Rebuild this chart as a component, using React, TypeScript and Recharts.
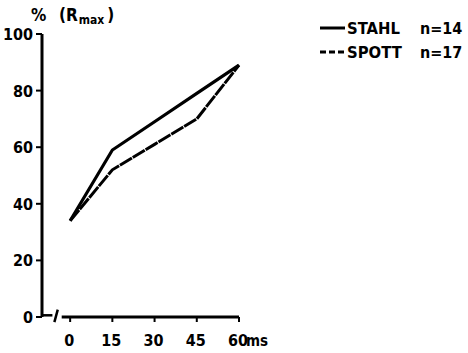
import React from 'react';
import { LineChart, Line, XAxis, YAxis, ReferenceLine } from 'recharts';

const times = [0, 15, 30, 45, 60];
const stahl = [34, 59, 69, 79, 89];
const spott = [34, 52, 61, 70, 89];
const xTicks = [0, 15, 30, 45, 60];
const yTicks = [0, 20, 40, 60, 80, 100];
const seriesNames = ['STAHL', 'SPOTT'];
const seriesN = ['n=14', 'n=17'];

const data = times.map((t, i) => ({ t, stahl: stahl[i], spott: spott[i] }));

const FONT = "'DejaVu Sans Condensed', 'DejaVu Sans', sans-serif";
const INK = '#000';

const XTick = (props: any) => {
  const { x, y, payload } = props;
  return (
    <g>
      <text x={x - 1} y={y + 22} textAnchor="middle" fontFamily={FONT} fontWeight="bold" fontSize={16} fill={INK}>
        {payload.value}
      </text>
      {payload.value === 60 && (
        <text x={x + 7} y={y + 22} textAnchor="start" fontFamily={FONT} fontWeight="bold" fontSize={15} fill={INK}>
          ms
        </text>
      )}
    </g>
  );
};

const YTick = (props: any) => {
  const { x, y, payload } = props;
  return (
    <text x={x} y={y + 6} textAnchor="end" fontFamily={FONT} fontWeight="bold" fontSize={16} fill={INK}>
      {payload.value}
    </text>
  );
};

export default function App() {
  return (
    <div style={{ position: 'absolute', left: 0, top: 0, width: 468, height: 353, background: '#fff' }}>
      <LineChart
        width={468}
        height={353}
        data={data}
        margin={{ top: 34, right: 229, left: 2, bottom: 6 }}
      >
        <XAxis
          dataKey="t"
          type="number"
          domain={[-10, 60]}
          ticks={xTicks}
          axisLine={false}
          tickLine={{ stroke: INK, strokeWidth: 2 }}
          tickSize={5}
          tickMargin={2}
          height={30}
          tick={<XTick />}
          interval={0}
        />
        <YAxis
          type="number"
          domain={[0, 100]}
          ticks={yTicks}
          width={40}
          axisLine={{ stroke: INK, strokeWidth: 3 }}
          tickLine={{ stroke: INK, strokeWidth: 2 }}
          tickSize={6}
          tickMargin={3}
          tick={<YTick />}
          interval={0}
        />
        <ReferenceLine
          segment={[{ x: -3, y: 0 }, { x: 60, y: 0 }]}
          stroke={INK}
          strokeWidth={3}
          ifOverflow="visible"
        />
        <ReferenceLine
          segment={[{ x: -10, y: 0.6 }, { x: -6.3, y: 0.6 }]}
          stroke={INK}
          strokeWidth={2.5}
          ifOverflow="visible"
        />
        <ReferenceLine
          segment={[{ x: -5.6, y: -1.8 }, { x: -4.4, y: 2.6 }]}
          stroke={INK}
          strokeWidth={2.5}
          ifOverflow="visible"
        />
        <Line
          dataKey="spott"
          stroke={INK}
          strokeWidth={3}
          strokeDasharray="14 1"
          dot={false}
          isAnimationActive={false}
        />
        <Line
          dataKey="stahl"
          stroke={INK}
          strokeWidth={3.2}
          dot={false}
          isAnimationActive={false}
        />
      </LineChart>
      <svg
        width={468}
        height={353}
        style={{ position: 'absolute', left: 0, top: 0, pointerEvents: 'none' }}
      >
        <text x={31} y={21} fontFamily={FONT} fontWeight="bold" fontSize={17} fill={INK}>
          <tspan>%</tspan>
          <tspan x={59}>(R</tspan>
          <tspan fontSize={12} dy={3} dx={1}>max</tspan>
          <tspan dy={-3} dx={3}>)</tspan>
        </text>
        {seriesNames.map((name, i) => {
          const cy = 28 + i * 24;
          return (
            <g key={name}>
              <line
                x1={320}
                x2={345}
                y1={cy}
                y2={cy}
                stroke={INK}
                strokeWidth={3}
                strokeDasharray={i === 1 ? '6 3' : undefined}
              />
              <text x={347} y={cy + 6} fontFamily={FONT} fontWeight="bold" fontSize={16.5} fill={INK}>
                {name}
              </text>
              <text x={420} y={cy + 6} fontFamily={FONT} fontWeight="bold" fontSize={16} fill={INK}>
                {seriesN[i]}
              </text>
            </g>
          );
        })}
      </svg>
    </div>
  );
}
